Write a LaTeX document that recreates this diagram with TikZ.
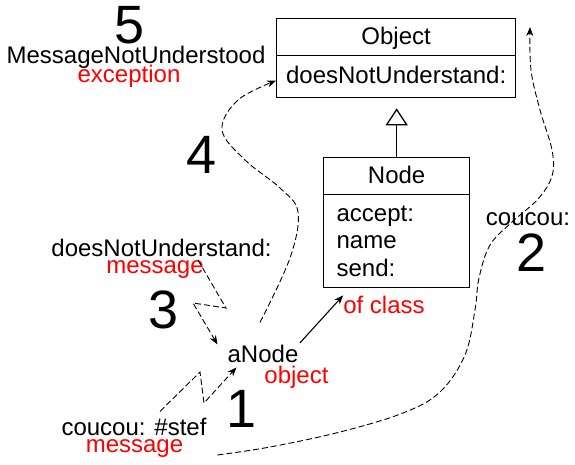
\documentclass[tikz,border=0pt]{standalone}
\usepackage{fontspec}
\setmainfont{Liberation Sans}
\usetikzlibrary{arrows.meta}
\begin{document}
\begin{tikzpicture}[x=1pt,y=-1pt,
  lbl/.style={font=\fontsize{24}{27.5}\selectfont, inner sep=0pt, anchor=base},
  redlbl/.style={lbl, text=red},
  num/.style={font=\fontsize{54}{60}\selectfont, inner sep=0pt, anchor=base},
  comp/.style={draw, line width=1.3pt, inner sep=0pt, anchor=north west, font=\fontsize{24}{27.5}\selectfont},
  title/.style={comp, text height=18.5pt, text depth=4pt},
  msgarrow/.style={dash pattern=on 6pt off 3pt, line width=0.9pt, -{Stealth[length=9pt,width=7pt]}},
]
\fill[white] (0,0) rectangle (575,464);
\useasboundingbox (0,0) rectangle (575,464);

% class Object
\node[title, minimum width=239pt, minimum height=37pt] (objT) at (276,18) {Object};
\node[title, minimum width=239pt, minimum height=42pt] (objM) at (276,55) {doesNotUnderstand:};

% class Node
\node[title, minimum width=146pt, minimum height=37pt] (nodeT) at (323,157) {Node};
\node[comp, minimum width=146pt, minimum height=93pt, align=left, text width=120pt] (nodeA) at (323,194) {accept:\\name\\send:};

% inheritance
\draw[line width=1.3pt, -{Triangle[open, length=17pt, width=22pt]}, shorten >=10pt]
  (nodeT.north) -- (nodeT.north |- objM.south);

% labels
\node[lbl] (mnu) at (136,63) {MessageNotUnderstood};
\node[redlbl] (exc) at (129,82) {exception};
\node[num] (n5) at (130,43) {5};
\node[num] (n4) at (202,173) {4};
\node[num] (n3) at (164,328) {3};
\node[num] (n1) at (242,427) {1};
\node[num] (n2) at (532,271) {2};
\node[lbl] (cc2) at (528,225) {coucou:};
\node[lbl] (dnu) at (161.5,256) {doesNotUnderstand:};
\node[redlbl] (msg3) at (155,273) {message};
\node[lbl] (anode) at (263,362) {aNode};
\node[redlbl] (obj) at (296.5,383) {object};
\node[redlbl] (ofc) at (384,313) {of class};
\node[lbl] (cst) at (134,435) {coucou: \#stef};
\node[redlbl] (msg1) at (134.5,452) {message};

% instance of
\draw[line width=1.1pt, -{Stealth[length=9pt,width=7pt]}, shorten <=2pt] (anode.north east) -- (ofc.north west);

% message 1 (lightning)
\draw[msgarrow] ([xshift=26pt,yshift=6pt]cst.north) -- (200,372) -- (204,403) -- ([xshift=9pt,yshift=-5pt]anode.south west);

% message 3 (lightning)
\draw[msgarrow] ([xshift=-6pt]msg3.north east) -- (226,308) -- (193,303) -- ([xshift=-10pt]anode.north west);

% step 4 curve
\draw[msgarrow] plot[smooth, tension=0.6] coordinates {([xshift=-3pt,yshift=22pt]anode.north) (290,258) (298,212) (280,188) (245,160) (222,130) (238,100) ([yshift=-4pt]objM.west)};

% step 2 curve
\coordinate (c2end) at (530,27);
\draw[msgarrow] plot[smooth, tension=0.6] coordinates {([xshift=34pt,yshift=-3pt]msg1.base east) (270,447) (340,432) (403,413) (440,392) (465,355) (475,310) (479,278) (490,245) (512,222) (538,199) (552,176) (552,150) (540,110) (531,70) (c2end)};
\end{tikzpicture}
\end{document}
